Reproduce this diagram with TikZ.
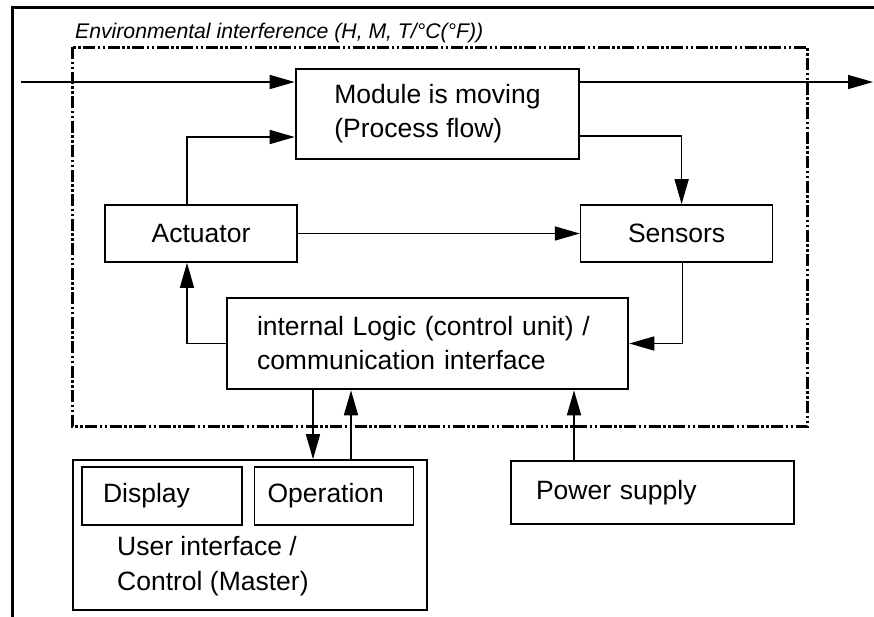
\documentclass[tikz,border=0pt]{standalone}
\usepackage{fontspec}
\setmainfont{Liberation Sans}
\usetikzlibrary{positioning, arrows.meta}
\tikzset{
  >={Triangle[length=25pt,width=14pt]},
  block/.style={draw, line width=2.6pt, align=left,
    font=\fontsize{26.5}{34}\selectfont},
  thinblock/.style={block, line width=1.6pt},
  conn/.style={->, line width=1.6pt},
  envframe/.style={line width=3pt,
    dash pattern=on 12pt off 2.5pt on 2.5pt off 2.5pt on 2.5pt off 2.5pt},
}

\begin{document}
\begin{tikzpicture}[x=1pt, y=-1pt]
  \useasboundingbox (0,0) rectangle (874,616);

  % frames
  \draw[line width=3pt] (12,630) -- (12,7) -- (890,7);
  \draw[envframe] (72,47) rectangle (807,426);
  \node[anchor=base west, inner sep=0, font=\fontsize{21.2}{24}\selectfont\itshape]
    (envlabel) at (75,38) {Environmental interference (H, M, T/°C(°F))};

  % blocks
  \node[block, minimum width=283pt, minimum height=90pt] (module) at (437.5,114)
    {Module is moving\\(Process flow)};
  \node[thinblock, minimum width=192pt, minimum height=57pt] (actuator) at (201,233.5) {Actuator};
  \node[thinblock, minimum width=192pt, minimum height=57pt, right=282pt of actuator] (sensors) {Sensors};
  \node[block, minimum width=401pt, minimum height=91pt, text width=341pt, inner xsep=30pt]
    (logic) at (427.5,343.5) {internal Logic (control unit) /\\communication interface};
  \node[block, minimum width=283pt, minimum height=63pt, text width=233pt, inner xsep=25pt]
    (power) at (652.5,492.5) {Power supply};

  % user interface
  \node[thinblock, minimum width=354pt, minimum height=150pt] (ui) at (250,535) {};
  \node[thinblock, minimum height=58pt, text width=118pt, inner xsep=21pt] (display) at (162,496) {Display};
  \node[thinblock, minimum height=58pt, text width=133pt, inner xsep=13pt, right=11pt of display] (operation) {Operation};
  \node[anchor=west, inner sep=0, align=left, font=\fontsize{26.5}{35}\selectfont]
    (uilabel) at (117,566) {User interface /\\Control (Master)};

  % connectors
  \coordinate (in) at (21,82);
  \coordinate (out) at (873,82);
  \coordinate (dn) at (313,0);
  \coordinate (up) at (351,0);
  \coordinate (pw) at (574,0);

  \draw[conn] (in) -- (in -| module.west);
  \draw[conn] (module.east |- in) -- (out);
  \draw[conn] ([xshift=-14pt]actuator.north) |- ([yshift=-23pt]module.west);
  \draw[conn] ([yshift=-22pt]module.east) -| ([xshift=5pt]sensors.north);
  \draw[conn] (actuator) -- (sensors);
  \draw[conn] (logic.west) -| ([xshift=-14pt]actuator.south);
  \draw[conn] ([xshift=6pt]sensors.south) |- (logic.east);
  \draw[conn] (logic.south -| dn) -- (ui.north -| dn);
  \draw[conn] (ui.north -| up) -- (logic.south -| up);
  \draw[conn] (power.north -| pw) -- (logic.south -| pw);
\end{tikzpicture}
\end{document}
